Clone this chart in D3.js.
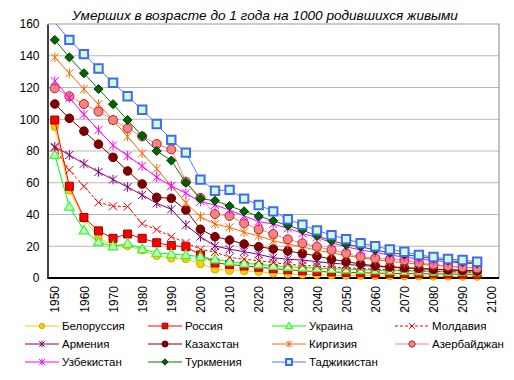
<!DOCTYPE html>
<html><head><meta charset="utf-8">
<script src="https://cdn.jsdelivr.net/npm/d3@7"></script>
<style>html,body{margin:0;padding:0;background:#fff;}svg{display:block;font-family:"Liberation Sans",Arial,sans-serif;}</style>
</head><body><svg id="c" width="514" height="380"></svg>
<script>
const title = "Умерших в возрасте до 1 года на 1000 родившихся живыми";
const years = d3.range(1950, 2101, 5).map(String);
const xTickLabels = ["1950","1960","1970","1980","1990","2000","2010","2020","2030","2040","2050","2060","2070","2080","2090","2100"];
const yTicks = [0,20,40,60,80,100,120,140,160];

const belarus    = [95.3,55.2,37.5,25.3,20.5,20.2,17.5,14,12.4,12,8.8,5.5,4.6,4.4,4,3,2.5,2.2,2,1.8,1.6,1.5,1.4,1.3,1.2,1.1,1,1,0.9,0.9];
const russia     = [99.5,57.8,38.1,29.7,25,27.7,25,22.2,20.4,19.7,14.5,9.5,8.5,7.6,6.8,5.9,5.2,4.5,4.1,3.8,3.5,3.3,3.1,2.9,2.8,2.7,2.6,2.5,2.4,2.3];
const ukraine    = [77.5,44.9,30,22.7,20,21.7,18.2,15.8,15.1,14.5,13.4,11.8,10.3,9.2,8.6,7.7,7.1,6.6,6.2,5.8,5.5,5.2,4.9,4.7,4.5,4.3,4.1,3.9,3.8,3.7];
const moldavia   = [82,68,57.7,47.6,45.2,45,34.2,30.5,26,22.2,18.1,16.3,13,11.8,10.9,9.7,8.6,8,7.4,6.9,6.4,6,5.6,5.2,4.9,4.6,4.3,4,3.8,3.6];
const armenia    = [82.7,77.5,72,66.8,62,57.3,52.3,47,43.3,33.4,26,20.2,18.1,16.6,14.9,12.8,11.8,11.3,10.3,9.4,8.6,7.9,7.3,6.8,6.3,5.9,5.5,5.2,4.9,4.6];
const kazakhstan = [109.6,100.6,92.5,84.3,76,67.4,59.2,50.8,50.2,42.8,30.7,26,23.9,21.4,19.7,18.3,17,15.5,13.9,11.8,10.3,8.8,7.7,7.1,6.5,6,5.5,5.1,4.7,4.4];
const kirgizia   = [139,129,119,109.4,99.5,89,78.5,68.8,58,47.4,38.6,34,31.9,28.8,26.5,23.5,21.4,19.5,17.5,15.8,14.2,12.8,11.5,10.4,9.5,8.7,8,7.3,6.8,6.3];
const azerbaijan = [119.5,114.5,109.6,104.8,99.5,94.3,89.2,84.4,81,60.7,50.5,40.3,39.1,34.4,30.7,27.7,24.4,21.9,19.7,17.6,15.5,13.4,12.4,11.8,11.2,9.5,8.5,7.6,6.8,6.1];
const uzbekistan = [124,113.5,103,93.2,83.5,77,70.5,63.4,58,53.4,48.1,46,42.8,39.1,35.5,34,31.3,28.1,25.6,22.2,19.7,17.6,16.2,14.5,13.2,12,11,10.2,9.5,8.8];
const turkmenia  = [150,139,129,119,109.5,99.5,89.5,80,74,60,50,48.7,45.4,42,39,36,33,30.2,26.5,23.5,21,19.7,17.6,16,14.8,13.5,12.3,11,10,9.2];
const tajikistan = [161,150,141,132,123,114.5,106,97,87,79,62,55,55.5,50,46,42,37,33.5,30,27,24.5,22,20,18,16.5,14.5,13.2,12,11.3,10.2];

const seriesNames = ["Белоруссия","Россия","Украина","Молдавия","Армения","Казахстан","Киргизия","Азербайджан","Узбекистан","Туркмения","Таджикистан"];
const seriesValues = [belarus,russia,ukraine,moldavia,armenia,kazakhstan,kirgizia,azerbaijan,uzbekistan,turkmenia,tajikistan];

const styles = [
  {line:"#FFCC00", marker:"circle", r:3.8, fill:"#FFCC00", stroke:"#D4A800", sw:1},
  {line:"#FF0000", marker:"square", r:4, fill:"#FF0000", stroke:"#990000", sw:1},
  {line:"#00FF00", marker:"triangle", r:5, fill:"#CCFFCC", stroke:"#33FF33", sw:1.3},
  {line:"#FF0000", dash:"3,2", marker:"x", r:4, fill:"none", stroke:"#FF0000", sw:1},
  {line:"#800080", marker:"star", r:4, fill:"none", stroke:"#800080", sw:1},
  {line:"#800000", marker:"circle", r:4.3, fill:"#800000", stroke:"#660000", sw:1},
  {line:"#FF6600", marker:"star", r:4, fill:"none", stroke:"#FF6600", sw:1},
  {line:"#FF8080", marker:"circle", r:4.5, fill:"#FF8080", stroke:"#993333", sw:1},
  {line:"#FF00FF", marker:"star", r:4, fill:"none", stroke:"#FF00FF", sw:1},
  {line:"#008000", marker:"diamond", r:4.5, fill:"#006400", stroke:"#003300", sw:1},
  {line:"#5577FF", marker:"square", r:4.2, fill:"#CCFFCC", stroke:"#4466FF", sw:2}
];

const svg = d3.select("#c");
const L = 47.5, R = 499, T = 24, B = 278;
const x = d3.scalePoint().domain(years).range([L, R]).padding(0.5);
const y = d3.scaleLinear().domain([0,160]).range([B, T]);

svg.append("g").selectAll("line").data(yTicks.filter(d=>d>0 && d<160)).join("line")
  .attr("x1", L).attr("x2", R).attr("y1", d=>y(d)).attr("y2", d=>y(d))
  .attr("stroke", "#B8B8B8").attr("stroke-width", 1);
svg.append("path").attr("d", `M${L},${T}H${R}V${B}`).attr("fill","none").attr("stroke","#9A9A9A").attr("stroke-width",1.2);

const yAxis = svg.append("g").attr("transform", `translate(${L},0)`)
  .call(d3.axisLeft(y).tickValues(yTicks).tickSize(0).tickPadding(8));
yAxis.select(".domain").attr("stroke","#000").attr("stroke-width",1.5);
yAxis.selectAll("text").attr("font-size","12px").attr("fill","#000").attr("font-family","Liberation Sans, Arial, sans-serif");

const xAxis = svg.append("g").attr("transform", `translate(0,${B})`)
  .call(d3.axisBottom(x).tickValues(xTickLabels).tickSize(0));
xAxis.select(".domain").attr("d", `M${L},0H${R}`).attr("stroke","#000").attr("stroke-width",1.8);
xAxis.selectAll("text").attr("font-size","12px").attr("fill","#000").attr("font-family","Liberation Sans, Arial, sans-serif")
  .attr("transform","rotate(-90)").attr("text-anchor","end").attr("x",-8).attr("y",0).attr("dy","0.35em");

svg.append("clipPath").attr("id","clip").append("rect").attr("x",L).attr("y",T).attr("width",R-L).attr("height",B-T);

function markerPath(type, r){
  switch(type){
    case "square": return `M${-r},${-r}H${r}V${r}H${-r}Z`;
    case "triangle": return `M0,${-r}L${r*0.95},${r*0.7}L${-r*0.95},${r*0.7}Z`;
    case "diamond": return `M0,${-r}L${r},0L0,${r}L${-r},0Z`;
    case "x": return `M${-r},${-r}L${r},${r}M${-r},${r}L${r},${-r}`;
    case "star": return `M${-r},${-r}L${r},${r}M${-r},${r}L${r},${-r}M0,${-r*1.2}V${r*1.2}`;
  }
}
function drawMarker(g, st, scale){
  const r = st.r*scale;
  if (st.marker === "circle") {
    g.append("circle").attr("r", r).attr("fill", st.fill).attr("stroke", st.stroke).attr("stroke-width", st.sw);
  } else {
    g.append("path").attr("d", markerPath(st.marker, r)).attr("fill", st.fill).attr("stroke", st.stroke).attr("stroke-width", st.sw);
  }
}

const plot = svg.append("g");
seriesValues.forEach((vals, i) => {
  const st = styles[i];
  const pts = vals.map((v, j) => ({yr: years[j], v}));
  plot.append("path").datum(pts)
    .attr("clip-path","url(#clip)")
    .attr("fill","none").attr("stroke", st.line).attr("stroke-width", 1)
    .attr("stroke-dasharray", st.dash || null)
    .attr("d", d3.line().x(d=>x(d.yr)).y(d=>y(d.v)));
  pts.filter(d => d.v <= 160).forEach(d => {
    const g = plot.append("g").attr("transform", `translate(${x(d.yr)},${y(d.v)})`);
    drawMarker(g, st, 1);
  });
});

svg.append("text").attr("x", 265).attr("y", 20).attr("text-anchor","middle")
  .attr("font-size","13.6px").attr("font-style","italic").attr("fill","#000").text(title);

const colX = [25, 148, 272, 395];
const rowY = [326, 344, 362];
seriesNames.forEach((name, i) => {
  const st = styles[i];
  const cx = colX[i % 4], cy = rowY[Math.floor(i / 4)];
  const g = svg.append("g");
  g.append("line").attr("x1", cx).attr("x2", cx + 34).attr("y1", cy).attr("y2", cy)
    .attr("stroke", st.line).attr("stroke-width", 1).attr("stroke-dasharray", st.dash || null);
  const m = g.append("g").attr("transform", `translate(${cx + 17},${cy})`);
  drawMarker(m, st, 0.7);
  g.append("text").attr("x", cx + 37).attr("y", cy).attr("dy","0.35em")
    .attr("font-size","11.5px").attr("fill","#000").text(name);
});
</script></body></html>
